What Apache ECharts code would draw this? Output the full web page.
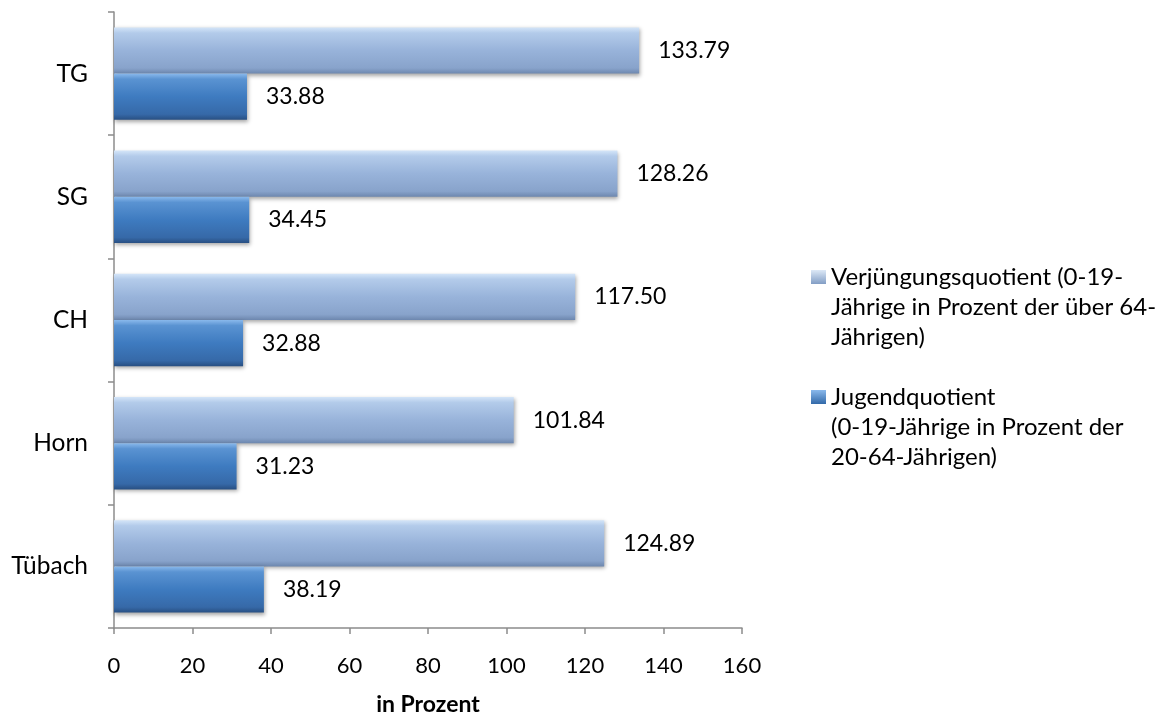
<!DOCTYPE html>
<html>
<head>
<meta charset="utf-8">
<script src="https://cdn.jsdelivr.net/npm/echarts@6/dist/echarts.min.js"></script>
<style>
html,body{margin:0;padding:0;background:#fff;}
#chart{width:1167px;height:715px;}
</style>
</head>
<body>
<div id="chart"></div>
<script>
const categories = ['Tübach', 'Horn', 'CH', 'SG', 'TG'];
const verjuengung = [124.89, 101.84, 117.50, 128.26, 133.79];
const jugend = [38.19, 31.23, 32.88, 34.45, 33.88];
const xTicks = { min: 0, max: 160, interval: 20 };
const nameVerj = 'Verjüngungsquotient (0-19-\nJährige in Prozent der über 64-\nJährigen)';
const nameJug = 'Jugendquotient\n(0-19-Jährige in Prozent der\n20-64-Jährigen)';

const FONT = 'Lato, "Open Sans", sans-serif';
const chart = echarts.init(document.getElementById('chart'));

function grad(stops) {
  return new echarts.graphic.LinearGradient(0, 0, 0, 1, stops.map(c => ({offset: c[0], color: c[1]})));
}
const lightColor = grad([[0,'#d4e5f8'],[0.12,'#b3cbea'],[0.5,'#98b3da'],[0.88,'#88a3cb'],[1,'#6d87ae']]);
const darkColor = grad([[0,'#8ab9ec'],[0.12,'#5a93d2'],[0.5,'#3e7bc0'],[0.88,'#3669a8'],[1,'#284f82']]);
const lightIcon = grad([[0,'#dce8f6'],[0.09,'#dce8f6'],[0.25,'#7f9bc3'],[1,'#7f9bc3']]);
const darkIcon = grad([[0,'#8ab9ec'],[0.09,'#8ab9ec'],[0.25,'#2f66a6'],[1,'#2f66a6']]);
const iconPath = 'path://M0,0L0.01,0M0,8L15,8L15,22L0,22ZM0,90L0.01,90';

const labelCfg = {
  show: true, position: 'right', distance: 19,
  color: '#000', fontSize: 23, fontFamily: FONT,
  formatter: p => p.value.toFixed(2)
};
const shadow = { shadowBlur: 4, shadowOffsetY: 2, shadowOffsetX: 1, shadowColor: 'rgba(0,0,0,0.35)' };

chart.setOption({
  animation: false,
  textStyle: { fontFamily: FONT },
  grid: { left: 114, right: 425, top: 12, bottom: 87, containLabel: false, outerBoundsMode: 'none' },
  legend: {
    data: [
      { name: nameVerj, icon: iconPath, itemStyle: { color: lightIcon } },
      { name: nameJug, icon: iconPath, itemStyle: { color: darkIcon } }
    ],
    orient: 'vertical',
    left: 806, top: 257,
    itemWidth: 15, itemHeight: 90,
    itemGap: 30,
    textStyle: { fontSize: 24, color: '#000', lineHeight: 30, fontFamily: FONT }
  },
  xAxis: {
    type: 'value', min: xTicks.min, max: xTicks.max, interval: xTicks.interval,
    splitLine: { show: false },
    axisLine: { show: true, lineStyle: { color: '#8c8c8c', width: 1.5 } },
    axisTick: { show: true, length: 6, lineStyle: { color: '#8c8c8c', width: 1.5 } },
    axisLabel: { color: '#000', fontSize: 22, margin: 27, fontFamily: FONT },
    name: 'in Prozent', nameLocation: 'middle', nameGap: 65,
    nameTextStyle: { fontSize: 23, fontWeight: 'bold', color: '#000', fontFamily: FONT }
  },
  yAxis: {
    type: 'category', data: categories,
    axisLine: { show: true, lineStyle: { color: '#8c8c8c', width: 1.5 } },
    axisTick: { show: true, length: 6, lineStyle: { color: '#8c8c8c', width: 1.5 } },
    axisLabel: { color: '#000', fontSize: 24.5, margin: 26, fontFamily: FONT, padding: [10, 0, 0, 0] }
  },
  series: [
    {
      name: nameVerj, type: 'bar', data: verjuengung,
      barCategoryGap: '25%', barGap: '0%',
      itemStyle: Object.assign({ color: lightColor }, shadow),
      label: labelCfg
    },
    {
      name: nameJug, type: 'bar', data: jugend,
      barCategoryGap: '25%', barGap: '0%',
      itemStyle: Object.assign({ color: darkColor }, shadow),
      label: labelCfg
    }
  ]
});
</script>
</body>
</html>
